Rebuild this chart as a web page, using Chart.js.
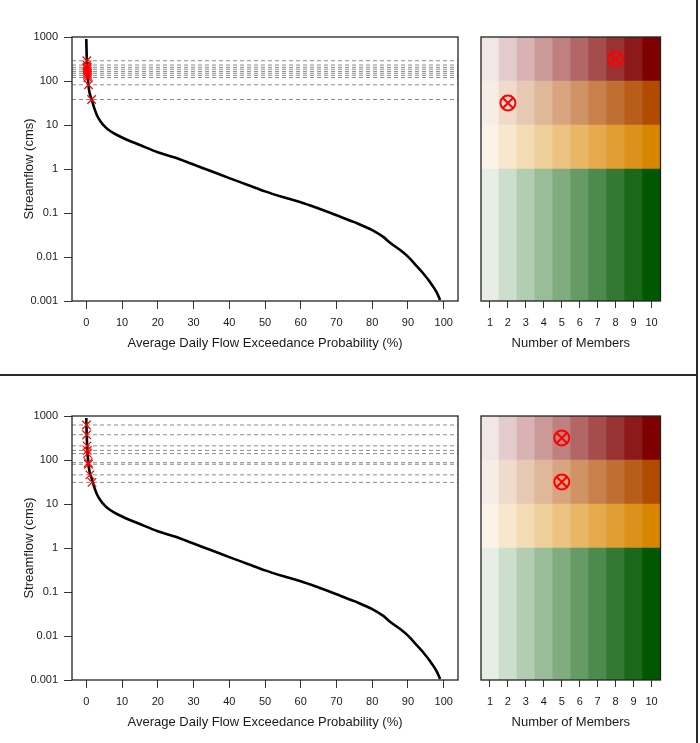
<!DOCTYPE html>
<html>
<head>
<meta charset="utf-8">
<script src="https://cdn.jsdelivr.net/npm/chart.js@4/dist/chart.umd.min.js"></script>
<style>
  body { margin: 0; background: #fff; }
  #page { position: relative; width: 700px; height: 743px; overflow: hidden; background: #fff; }
  canvas { position: absolute; }
  .rule { position: absolute; background: #2b2b2b; }
</style>
</head>
<body>
<div id="page">
  <canvas id="fdcTop" width="470" height="360" style="left:0;top:0"></canvas>
  <canvas id="gridTop" width="200" height="360" style="left:470px;top:0"></canvas>
  <canvas id="fdcBottom" width="470" height="360" style="left:0;top:379px"></canvas>
  <canvas id="gridBottom" width="200" height="360" style="left:470px;top:379px"></canvas>
  <div class="rule" style="left:0;top:374px;width:698px;height:2px"></div>
  <div class="rule" style="left:696px;top:0;width:2px;height:743px"></div>
</div>
<script>
// Flow duration curve
const exceedance = [0, 0.1, 0.2, 0.3, 0.45, 0.6, 0.9, 1.5, 2.4, 3, 4, 5, 6, 8, 10, 12, 15, 20, 25, 30, 35, 40, 45, 50, 55, 60, 65, 70, 75, 80, 83, 85, 88, 90, 92, 94, 96, 98, 99];
const flow = [900, 400, 250, 160, 110, 80, 55, 38, 22, 16.5, 12, 9.5, 8, 6.3, 5.2, 4.4, 3.5, 2.4, 1.8, 1.26, 0.89, 0.62, 0.44, 0.31, 0.23, 0.175, 0.126, 0.089, 0.062, 0.041, 0.029, 0.021, 0.014, 0.0102, 0.0068, 0.0045, 0.0028, 0.0016, 0.00105];

// Axis ticks
const flowTicks = [1000, 100, 10, 1, 0.1, 0.01, 0.001];
const flowTickLabels = ['1000', '100', '10', '1', '0.1', '0.01', '0.001'];
const exceedanceTicks = [0, 10, 20, 30, 40, 50, 60, 70, 80, 90, 100];

// Member thresholds (dashed lines + red crosses on the curve)
const topThresholds = [289, 231, 205, 185, 165, 150, 135, 120, 82, 38];
const topThresholdExceedance = [0.15, 0.2, 0.22, 0.25, 0.28, 0.32, 0.36, 0.4, 0.6, 1.5];
const bottomThresholds = [625, 375, 210, 165, 140, 87, 80, 46, 31];
const bottomThresholdExceedance = [0.05, 0.1, 0.22, 0.3, 0.35, 0.55, 0.6, 1.0, 1.6];

// Member grid
const members = ['1', '2', '3', '4', '5', '6', '7', '8', '9', '10'];
const rowBands = [[0, 1], [1, 2], [2, 3], [3, 4], [4, 5], [5, 6]]; // bottom to top
const topMarkerMembers = ['8', '2'];
const topMarkerRows = [5.5, 4.5];
const bottomMarkerMembers = ['5', '5'];
const bottomMarkerRows = [5.5, 4.5];

// Styles
const rowColors = [[0, 88, 0], [0, 88, 0], [0, 88, 0], [216, 134, 0], [176, 75, 0], [127, 0, 0]];
const textColor = '#1a1a1a';

Chart.defaults.font.family = "'Liberation Sans', Arial, sans-serif";
Chart.defaults.color = textColor;

// shade of a base colour mixed with white (opaque, so overlapping bars don't darken)
function shade(rgb, alpha) {
    const c = rgb.map(v => Math.round(255 - alpha * (255 - v)));
    return `rgb(${c[0]},${c[1]},${c[2]})`;
}

// Box around the plot area, R style
const boxPlugin = {
    id: 'box',
    afterDraw(chart) {
        const { ctx, chartArea: a } = chart;
        ctx.save();
        ctx.strokeStyle = '#222';
        ctx.lineWidth = 1.3;
        ctx.strokeRect(a.left, a.top, a.right - a.left, a.bottom - a.top);
        ctx.restore();
    }
};

function makeFdc(canvasId, thresholds, thresholdX) {
    const datasets = [];
    datasets.push({
        data: thresholds.map((v, i) => ({ x: thresholdX[i], y: v })),
        showLine: false,
        pointStyle: 'crossRot',
        pointRadius: 6,
        borderColor: '#ff0000',
        pointBorderWidth: 1.2
    });
    datasets.push({
        data: exceedance.map((p, i) => ({ x: p, y: flow[i] })),
        borderColor: '#000',
        borderWidth: 2.6,
        pointRadius: 0,
        cubicInterpolationMode: 'monotone'
    });
    thresholds.forEach(v => {
        datasets.push({
            data: [{ x: -4, y: v }, { x: 104, y: v }],
            borderColor: '#8c8c8c',
            borderWidth: 1,
            borderDash: [4, 3],
            pointRadius: 0
        });
    });

    new Chart(document.getElementById(canvasId), {
        type: 'line',
        data: { datasets: datasets },
        options: {
            responsive: false,
            animation: false,
            layout: { padding: { left: 18, right: 12, top: 37, bottom: 7 } },
            plugins: { legend: { display: false }, tooltip: { enabled: false } },
            scales: {
                x: {
                    type: 'linear',
                    min: -4,
                    max: 104,
                    afterBuildTicks: s => { s.ticks = exceedanceTicks.map(v => ({ value: v })); },
                    afterFit: s => { s.height = 52; },
                    grid: { drawOnChartArea: false, drawTicks: true, tickLength: 8, color: '#333' },
                    border: { display: false },
                    ticks: { font: { size: 11 }, padding: 7, maxRotation: 0, autoSkip: false },
                    title: { display: true, text: 'Average Daily Flow Exceedance Probability (%)', font: { size: 13 }, padding: { top: 0, bottom: 2 } }
                },
                y: {
                    type: 'logarithmic',
                    min: 0.001,
                    max: 1000,
                    afterBuildTicks: s => { s.ticks = flowTicks.map(v => ({ value: v })); },
                    afterFit: s => { s.width = 54; },
                    grid: { drawOnChartArea: false, drawTicks: true, tickLength: 8, color: '#333' },
                    border: { display: false },
                    ticks: {
                        font: { size: 11 },
                        padding: 6,
                        autoSkip: false,
                        callback: v => flowTickLabels[flowTicks.indexOf(v)]
                    },
                    title: { display: true, text: 'Streamflow (cms)', font: { size: 13 }, padding: { top: 4, bottom: 0 } }
                }
            }
        },
        plugins: [boxPlugin]
    });
}

function makeGrid(canvasId, markerMembers, markerRows) {
    const markerData = markerMembers.map((m, i) => ({ x: m, y: markerRows[i] }));
    const datasets = [];
    // circled cross, drawn as circle + rotated cross
    datasets.push({
        type: 'line', data: markerData, showLine: false,
        pointStyle: 'crossRot', pointRadius: 7.5, borderColor: '#ff0000', pointBorderWidth: 2
    });
    datasets.push({
        type: 'line', data: markerData, showLine: false,
        pointStyle: 'circle', pointRadius: 7.5, borderColor: '#ff0000',
        backgroundColor: 'rgba(0,0,0,0)', pointBorderWidth: 2
    });
    rowBands.forEach((band, r) => {
        datasets.push({
            type: 'bar',
            data: members.map(() => band),
            backgroundColor: members.map((m, i) => shade(rowColors[r], (i + 1) / 10)),
            barPercentage: 1,
            categoryPercentage: 1,
            grouped: false,
            borderWidth: 0
        });
    });

    new Chart(document.getElementById(canvasId), {
        type: 'bar',
        data: { labels: members, datasets: datasets },
        options: {
            responsive: false,
            animation: false,
            layout: { padding: { left: 11, right: 7, top: 37, bottom: 7 } },
            plugins: { legend: { display: false }, tooltip: { enabled: false } },
            scales: {
                x: {
                    type: 'category',
                    offset: true,
                    afterFit: s => { s.height = 52; },
                    grid: { offset: false, drawOnChartArea: false, drawTicks: true, tickLength: 7, color: '#333' },
                    border: { display: false },
                    ticks: { font: { size: 11 }, padding: 8, maxRotation: 0, autoSkip: false },
                    title: { display: true, text: 'Number of Members', font: { size: 13 }, padding: { top: 0, bottom: 2 } }
                },
                y: { display: false, min: 0, max: 6 }
            }
        },
        plugins: [boxPlugin]
    });
}

makeFdc('fdcTop', topThresholds, topThresholdExceedance);
makeGrid('gridTop', topMarkerMembers, topMarkerRows);
makeFdc('fdcBottom', bottomThresholds, bottomThresholdExceedance);
makeGrid('gridBottom', bottomMarkerMembers, bottomMarkerRows);
</script>
</body>
</html>
